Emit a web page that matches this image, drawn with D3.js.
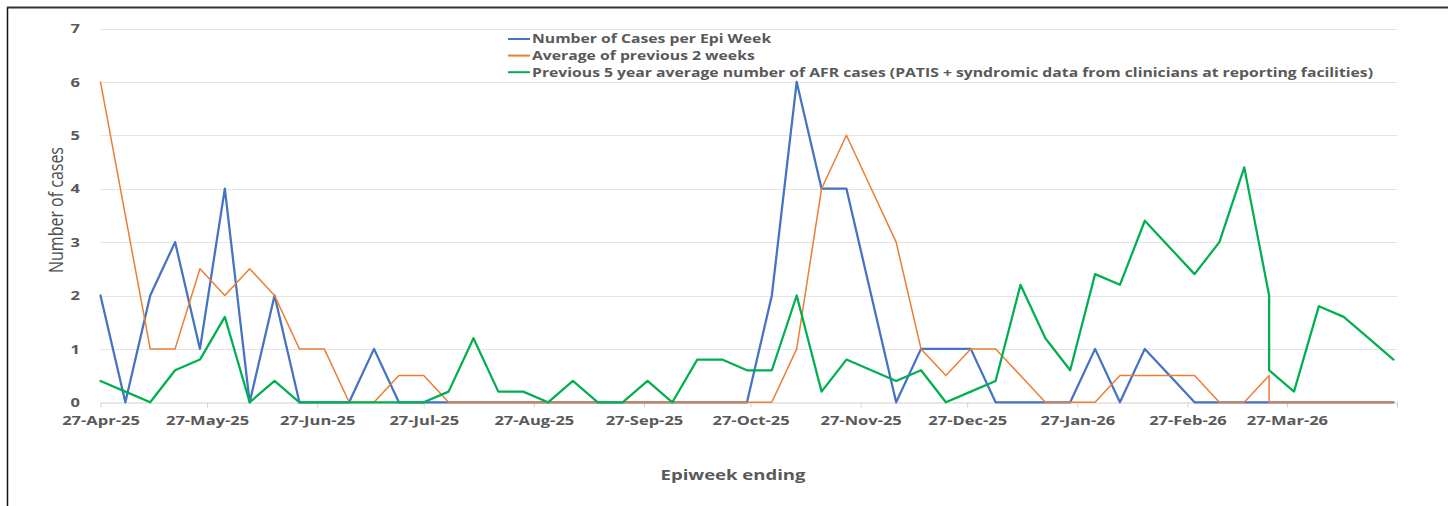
<html>
<head>
    <title>AFR cases per epi week</title>
    <style>
        body { margin: 0; background: #fff; }
    </style>
</head>
<body>
    <div id="grafico"></div>
    <script src="https://d3js.org/d3.v7.min.js"></script>
    <script>
        // Datas das semanas epidemiológicas (a semana de 22-Mar-26 aparece duas vezes na planilha)
        const weeks = [
            "2025-04-27", "2025-05-04", "2025-05-11", "2025-05-18", "2025-05-25",
            "2025-06-01", "2025-06-08", "2025-06-15", "2025-06-22", "2025-06-29",
            "2025-07-06", "2025-07-13", "2025-07-20", "2025-07-27", "2025-08-03",
            "2025-08-10", "2025-08-17", "2025-08-24", "2025-08-31", "2025-09-07",
            "2025-09-14", "2025-09-21", "2025-09-28", "2025-10-05", "2025-10-12",
            "2025-10-19", "2025-10-26", "2025-11-02", "2025-11-09", "2025-11-16",
            "2025-11-23", "2025-11-30", "2025-12-07", "2025-12-14", "2025-12-21",
            "2025-12-28", "2026-01-04", "2026-01-11", "2026-01-18", "2026-01-25",
            "2026-02-01", "2026-02-08", "2026-02-15", "2026-02-22", "2026-03-01",
            "2026-03-08", "2026-03-15", "2026-03-22", "2026-03-22", "2026-03-29",
            "2026-04-05", "2026-04-12", "2026-04-19", "2026-04-26"
        ];

        const casesPerWeek = [
            2, 0, 2, 3, 1, 4, 0, 2, 0, 0,
            0, 1, 0, 0, 0, 0, 0, 0, 0, 0,
            0, 0, 0, 0, 0, 0, 0, 2, 6, 4,
            4, 2, 0, 1, 1, 1, 0, 0, 0, 0,
            1, 0, 1, 0.5, 0, 0, 0, 0, 0, 0,
            0, 0, 0, 0
        ];

        const avgPrev2Weeks = [
            6, 3.5, 1, 1, 2.5, 2, 2.5, 2, 1, 1,
            0, 0, 0.5, 0.5, 0, 0, 0, 0, 0, 0,
            0, 0, 0, 0, 0, 0, 0, 0, 1, 4,
            5, 4, 3, 1, 0.5, 1, 1, 0.5, 0, 0,
            0, 0.5, 0.5, 0.5, 0.5, 0, 0, 0.5, 0, 0,
            0, 0, 0, 0
        ];

        const prev5YearAvg = [
            0.4, 0.2, 0, 0.6, 0.8, 1.6, 0, 0.4, 0, 0,
            0, 0, 0, 0, 0.2, 1.2, 0.2, 0.2, 0, 0.4,
            0, 0, 0.4, 0, 0.8, 0.8, 0.6, 0.6, 2, 0.2,
            0.8, 0.6, 0.4, 0.6, 0, 0.2, 0.4, 2.2, 1.2, 0.6,
            2.4, 2.2, 3.4, 2.9, 2.4, 3.0, 4.4, 2.0, 0.6, 0.2,
            1.8, 1.6, 1.2, 0.8
        ];

        const seriesNames = [
            "Number of Cases per Epi Week",
            "Average of previous 2 weeks",
            "Previous 5 year average number of AFR cases (PATIS + syndromic data from clinicians at reporting facilities)"
        ];
        const seriesColors = ["#4472C4", "#ED7D31", "#00B050"];
        const seriesWidths = [2.25, 1.5, 2.25];

        // Eixos
        const tickDates = [
            "2025-04-27", "2025-05-27", "2025-06-27", "2025-07-27", "2025-08-27",
            "2025-09-27", "2025-10-27", "2025-11-27", "2025-12-27", "2026-01-27",
            "2026-02-27", "2026-03-27", "2026-04-27"
        ];
        const tickLabels = [
            "27-Apr-25", "27-May-25", "27-Jun-25", "27-Jul-25", "27-Aug-25",
            "27-Sep-25", "27-Oct-25", "27-Nov-25", "27-Dec-25", "27-Jan-26",
            "27-Feb-26", "27-Mar-26", ""
        ];
        const yTicks = [0, 1, 2, 3, 4, 5, 6, 7];

        const W = 1448, H = 506;
        const stretch = 1.27;   // o gráfico original está esticado na horizontal
        const textColor = "#595959";

        const parse = d3.timeParse("%Y-%m-%d");

        const svg = d3.select("#grafico")
            .append("svg")
            .attr("width", W)
            .attr("height", H)
            .style("font-family", "'Open Sans', sans-serif");

        const x = d3.scaleTime()
            .domain([parse(tickDates[0]), parse(tickDates[tickDates.length - 1])])
            .range([100.5, 1397]);

        const y = d3.scaleLinear()
            .domain([0, 7])
            .range([402.3, 28.5]);

        // Moldura
        svg.append("line")
            .attr("x1", 7.5).attr("x2", 7.5).attr("y1", 7).attr("y2", H)
            .attr("stroke", "#111").attr("stroke-width", 1.5);
        svg.append("line")
            .attr("x1", 7).attr("x2", W).attr("y1", 7.5).attr("y2", 7.5)
            .attr("stroke", "#333").attr("stroke-width", 2);

        // Linhas de grade
        svg.append("g")
            .selectAll("line")
            .data(yTicks.slice(1))
            .join("line")
              .attr("x1", x.range()[0])
              .attr("x2", x.range()[1])
              .attr("y1", d => Math.round(y(d)) + 0.5)
              .attr("y2", d => Math.round(y(d)) + 0.5)
              .attr("stroke", "#e4e4e4")
              .attr("stroke-width", 1);

        // Rótulos do eixo Y
        svg.append("g")
            .selectAll("text")
            .data(yTicks)
            .join("text")
              .attr("transform", d => `translate(80,${y(d)}) scale(${stretch},1)`)
              .attr("dy", "0.36em")
              .attr("text-anchor", "end")
              .style("font-size", "13px")
              .style("font-weight", "bold")
              .style("fill", textColor)
              .text(d => d);

        // Eixo X
        const xAxis = svg.append("g")
            .attr("transform", `translate(0,${Math.round(y(0)) + 0.5})`)
            .call(d3.axisBottom(x)
                .tickValues(tickDates.map(parse))
                .tickFormat((d, i) => tickLabels[i])
                .tickSizeInner(5)
                .tickSizeOuter(0));

        xAxis.select(".domain").attr("stroke", "#d0d0d0");
        xAxis.selectAll(".tick line").attr("stroke", "#d0d0d0");
        xAxis.selectAll(".tick text")
            .attr("y", 13)
            .attr("transform", `scale(${stretch},1)`)
            .style("font-family", "'Open Sans', sans-serif")
            .style("font-size", "13px")
            .style("font-weight", "bold")
            .style("fill", textColor);

        // Séries
        const line = d3.line()
            .x((d, i) => x(parse(weeks[i])))
            .y(d => y(d));

        [casesPerWeek, avgPrev2Weeks, prev5YearAvg].forEach((values, k) => {
            svg.append("path")
                .datum(values)
                .attr("fill", "none")
                .attr("stroke", seriesColors[k])
                .attr("stroke-width", seriesWidths[k])
                .attr("stroke-linejoin", "round")
                .attr("stroke-linecap", "round")
                .attr("d", line);
        });

        // Legenda
        const legend = svg.append("g");
        seriesNames.forEach((name, i) => {
            const ly = 39 + i * 16.6;
            legend.append("line")
                .attr("x1", 508).attr("x2", 530)
                .attr("y1", ly).attr("y2", ly)
                .attr("stroke", seriesColors[i])
                .attr("stroke-width", 2);
            legend.append("text")
                .attr("transform", `translate(532,${ly}) scale(${stretch},1)`)
                .attr("dy", "0.36em")
                .style("font-size", "12.4px")
                .style("font-weight", "bold")
                .style("fill", textColor)
                .text(name);
        });

        // Título do eixo X
        svg.append("text")
            .attr("transform", `translate(733,480) scale(${stretch},1)`)
            .attr("text-anchor", "middle")
            .style("font-size", "14.6px")
            .style("font-weight", "bold")
            .style("fill", textColor)
            .text("Epiweek ending");

        // Título do eixo Y
        svg.append("text")
            .attr("transform", `translate(63,210) rotate(-90) scale(1,${stretch})`)
            .attr("text-anchor", "middle")
            .style("font-size", "16px")
            .style("font-weight", 500)
            .style("fill", "#4d4d4d")
            .text("Number of cases");
    </script>
</body>
</html>
